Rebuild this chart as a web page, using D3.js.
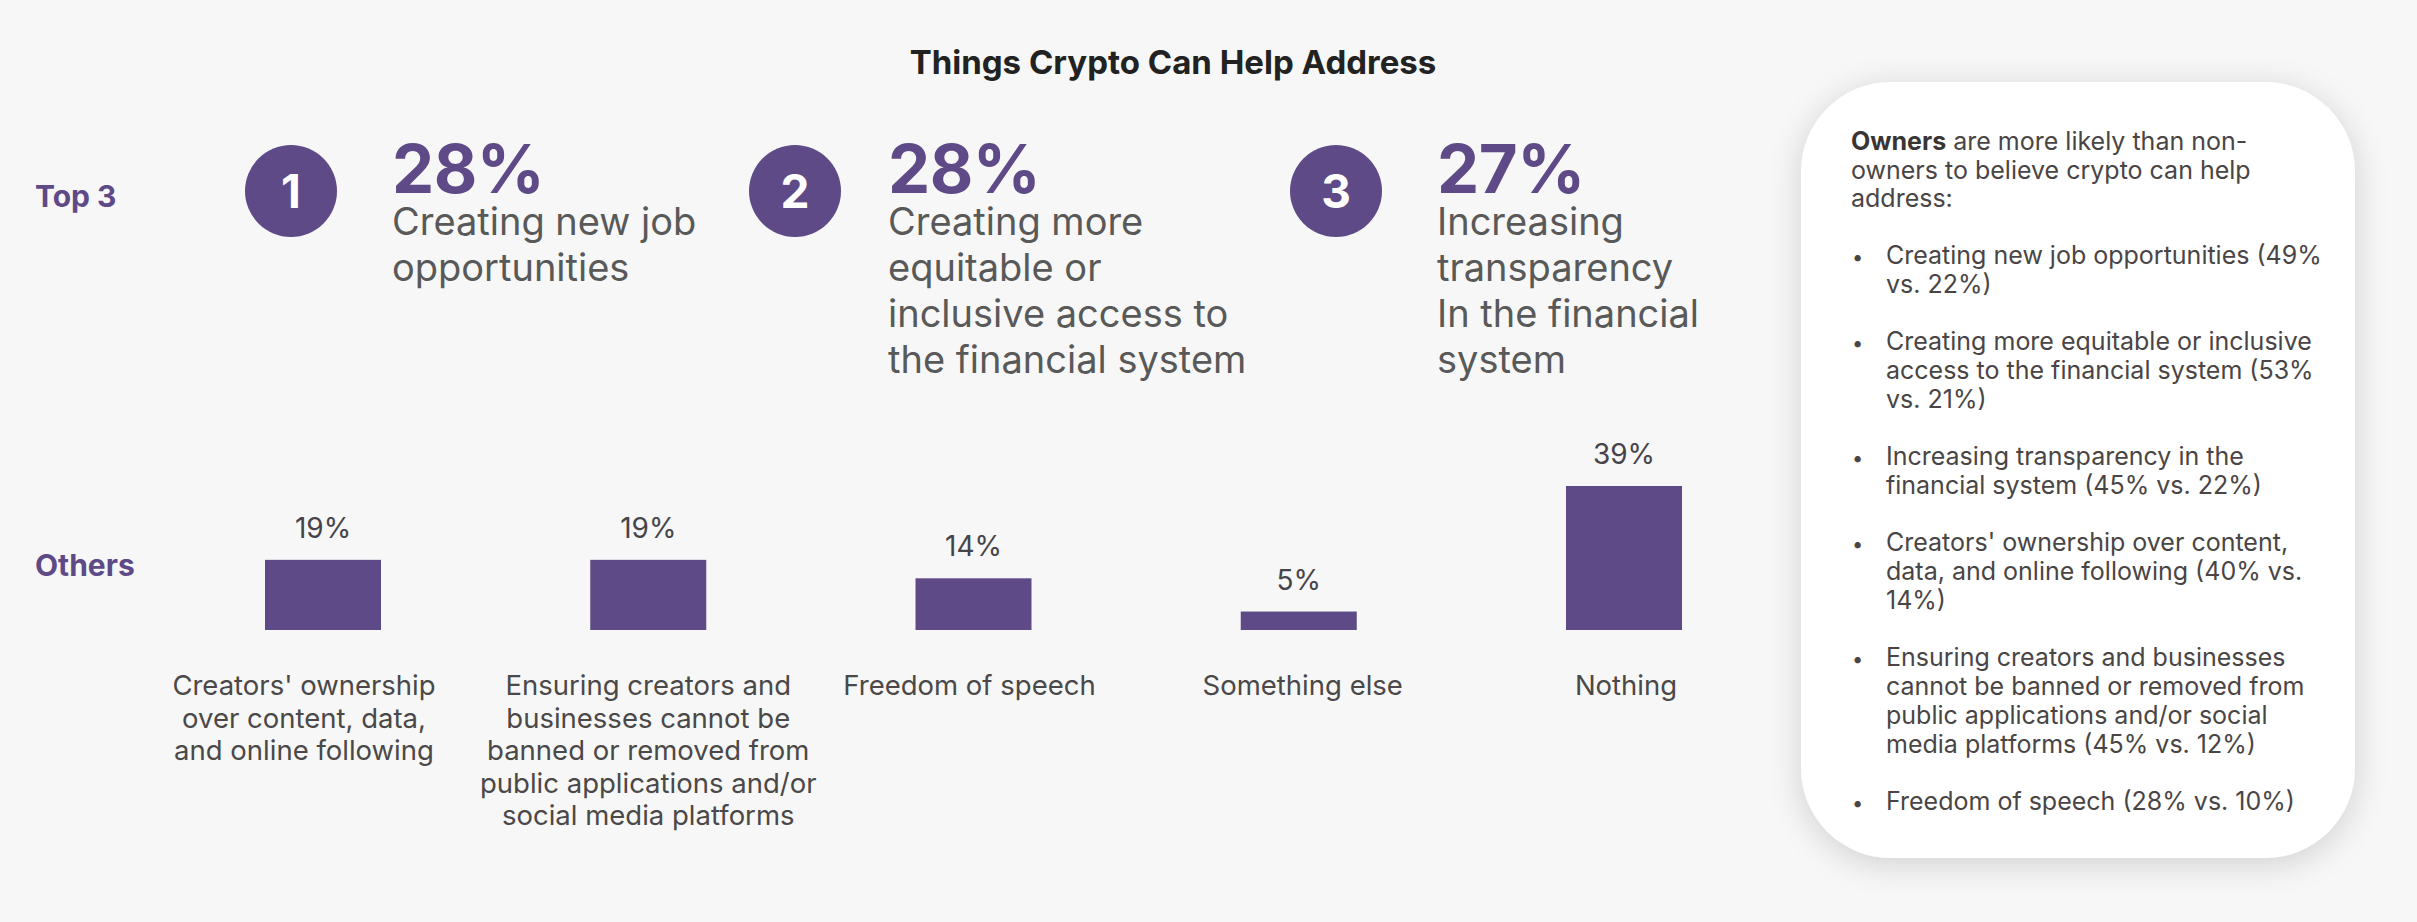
<!DOCTYPE html>
<html>
<head>
<meta charset="utf-8">
<script src="https://cdn.jsdelivr.net/npm/d3@7"></script>
<style>
  html, body { margin: 0; padding: 0; background: #f7f7f7; }
  svg { display: block; font-family: Inter, "Noto Sans", sans-serif; }
</style>
</head>
<body>
<svg id="chart" width="2417" height="922"></svg>
<script>
// ---- data ----
const chartTitle = "Things Crypto Can Help Address";
const groupLabels = ["Top 3", "Others"];

const topRanks = [1, 2, 3];
const topValues = [28, 28, 27];
const topLabels = [
  ["Creating new job", "opportunities"],
  ["Creating more", "equitable or", "inclusive access to", "the financial system"],
  ["Increasing", "transparency", "In the financial", "system"]
];

const otherCategories = [
  ["Creators' ownership", "over content, data,", "and online following"],
  ["Ensuring creators and", "businesses cannot be", "banned or removed from", "public applications and/or", "social media platforms"],
  ["Freedom of speech"],
  ["Something else"],
  ["Nothing"]
];
const otherValues = [19, 19, 14, 5, 39];

const ownerIntro = ["are more likely than non-", "owners to believe crypto can help", "address:"];
const ownerPoints = [
  ["Creating new job opportunities (49%", "vs. 22%)"],
  ["Creating more equitable or inclusive", "access to the financial system (53%", "vs. 21%)"],
  ["Increasing transparency in the", "financial system (45% vs. 22%)"],
  ["Creators' ownership over content,", "data, and online following (40% vs.", "14%)"],
  ["Ensuring creators and businesses", "cannot be banned or removed from", "public applications and/or social", "media platforms  (45% vs. 12%)"],
  ["Freedom of speech (28% vs. 10%)"]
];

// ---- layout ----
const purple = "#5e4a87";
const svg = d3.select("#chart");

const defs = svg.append("defs");
const shadow = defs.append("filter").attr("id", "panelShadow")
  .attr("x", "-20%").attr("y", "-20%").attr("width", "140%").attr("height", "140%");
shadow.append("feDropShadow")
  .attr("dx", 0).attr("dy", 6).attr("stdDeviation", 16)
  .attr("flood-color", "#000").attr("flood-opacity", 0.16);

// title
svg.append("text")
  .attr("x", 1173).attr("y", 74)
  .attr("text-anchor", "middle")
  .attr("font-size", 33).attr("font-weight", 700)
  .attr("fill", "#222")
  .text(chartTitle);

// row labels
const rowY = [207, 576];
svg.selectAll("text.row").data(groupLabels).join("text")
  .attr("class", "row")
  .attr("x", 35).attr("y", (d, i) => rowY[i])
  .attr("font-size", 30).attr("font-weight", 700)
  .attr("fill", purple)
  .text(d => d);

// ---- top 3 ----
const badgeX = [291, 795, 1336];
const textX = [392, 888, 1437];
const badgeY = 191;

const topItems = svg.selectAll("g.top").data(topRanks).join("g").attr("class", "top");
topItems.append("circle")
  .attr("cx", (d, i) => badgeX[i]).attr("cy", badgeY).attr("r", 46)
  .attr("fill", purple);
topItems.append("text")
  .attr("x", (d, i) => badgeX[i]).attr("y", badgeY + 17)
  .attr("text-anchor", "middle")
  .attr("font-size", 46).attr("font-weight", 700)
  .attr("fill", "#fff")
  .text(d => d);
topItems.append("text")
  .attr("x", (d, i) => textX[i]).attr("y", 193)
  .attr("font-size", 67).attr("font-weight", 700)
  .attr("fill", purple)
  .attr("letter-spacing", -0.5)
  .text((d, i) => topValues[i] + "%");
topItems.append("text")
  .attr("font-size", 38).attr("fill", "#595959")
  .selectAll("tspan").data((d, i) => topLabels[i].map(t => ({ t, i }))).join("tspan")
  .attr("x", d => textX[d.i])
  .attr("y", (d, j) => 235 + j * 46)
  .text(d => d.t);

// ---- others: bar chart ----
const x = d3.scalePoint().domain(d3.range(otherValues.length)).range([323, 1624]);
const y = d3.scaleLinear().domain([0, 39]).range([630, 486]);
const barW = 116;

svg.selectAll("rect.bar").data(otherValues).join("rect")
  .attr("class", "bar")
  .attr("x", (d, i) => x(i) - barW / 2)
  .attr("y", d => y(d))
  .attr("width", barW)
  .attr("height", d => y(0) - y(d))
  .attr("fill", purple);

svg.selectAll("text.val").data(otherValues).join("text")
  .attr("class", "val")
  .attr("x", (d, i) => x(i)).attr("y", d => y(d) - 22)
  .attr("text-anchor", "middle")
  .attr("font-size", 28).attr("fill", "#45444a")
  .text(d => d + "%");

// the first label block sits slightly left of its bar
const labelShift = [-19, 0, -4, 4, 2];
svg.selectAll("text.cat").data(otherCategories).join("text")
  .attr("class", "cat")
  .attr("text-anchor", "middle")
  .attr("font-size", 27.5).attr("fill", "#4a4848")
  .each(function (lines, i) {
    d3.select(this).selectAll("tspan").data(lines).join("tspan")
      .attr("x", x(i) + labelShift[i])
      .attr("y", (d, j) => 695 + j * 32.5)
      .text(d => d);
  });

// ---- owners panel ----
const panel = svg.append("g");
panel.append("rect")
  .attr("x", 1801).attr("y", 82)
  .attr("width", 554).attr("height", 776)
  .attr("rx", 90).attr("ry", 90)
  .attr("fill", "#fff")
  .attr("filter", "url(#panelShadow)");

const intro = panel.append("text")
  .attr("font-size", 25).attr("fill", "#4a4545");
ownerIntro.forEach((line, j) => {
  const t = intro.append("tspan").attr("x", 1851).attr("y", 150 + j * 28.7);
  if (j === 0) {
    t.append("tspan").attr("font-weight", 700).attr("fill", "#3a3535").text("Owners");
    t.append("tspan").text(" " + line);
  } else {
    t.text(line);
  }
});

let cursor = 264;
ownerPoints.forEach(lines => {
  panel.append("text")
    .attr("x", 1852).attr("y", cursor)
    .attr("font-size", 20).attr("fill", "#4a4545")
    .text("•");
  panel.append("text")
    .attr("font-size", 25).attr("fill", "#4a4545")
    .selectAll("tspan").data(lines).join("tspan")
    .attr("x", 1886)
    .attr("y", (d, j) => cursor + j * 29)
    .text(d => d);
  cursor += lines.length * 29 + 28;
});
</script>
</body>
</html>
